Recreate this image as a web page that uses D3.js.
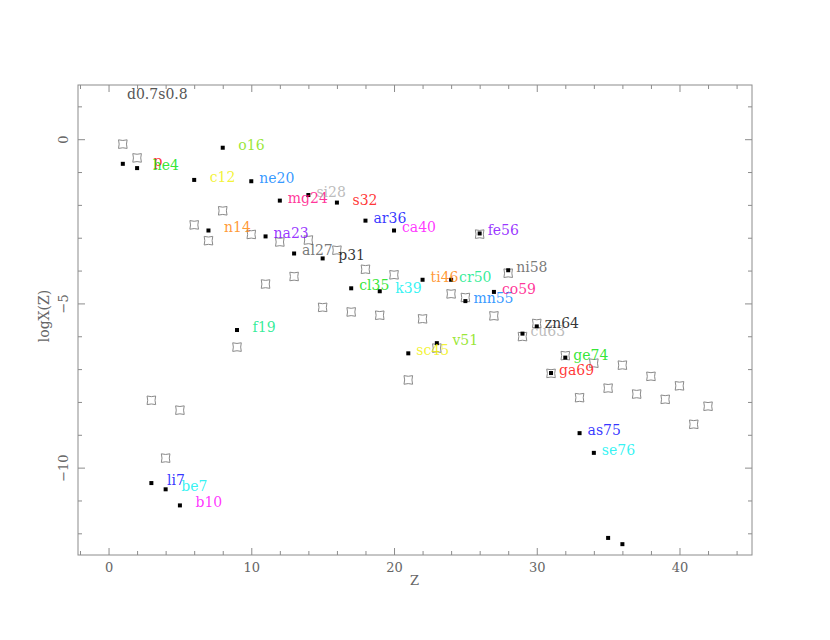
<!DOCTYPE html>
<html>
<head>
<meta charset="utf-8">
<script src="https://cdn.jsdelivr.net/npm/d3@7/dist/d3.min.js"></script>
<style>
  body { margin: 0; background: #fff; }
  svg { display: block; }
  text { font-family: "DejaVu Serif", serif; }
</style>
</head>
<body>
<div id="chart"></div>
<script>
// Abundance pattern logX(Z) — filled = model, open = reference set
var modelZ = [1, 2, 3, 4, 5, 6, 7, 8, 9, 10, 11, 12, 13, 14, 15, 16, 17, 18,
  19, 20, 21, 22, 23, 24, 25, 26, 27, 28, 29, 30, 31, 32, 33, 34, 35, 36];
var modelLogX = [-0.75, -0.88, -10.47, -10.66, -11.15, -1.24, -2.78, -0.26, -5.81,
  -1.28, -2.96, -1.87, -3.48, -1.70, -3.63, -1.93, -4.54, -2.48, -4.63, -2.78,
  -6.52, -4.28, -6.21, -4.28, -4.93, -2.87, -4.65, -3.99, -5.92, -5.70, -7.12,
  -6.65, -8.95, -9.55, -12.14, -12.33];
var isotopeNames = ['p', 'he4', 'li7', 'be7', 'b10', 'c12', 'n14', 'o16', 'f19',
  'ne20', 'na23', 'mg24', 'al27', 'si28', 'p31', 's32', 'cl35', 'ar36', 'k39',
  'ca40', 'sc45', 'ti46', 'v51', 'cr50', 'mn55', 'fe56', 'co59', 'ni58', 'cu63',
  'zn64', 'ga69', 'ge74', 'as75', 'se76'];

var refZ = [1, 2, 3, 4, 5, 6, 7, 8, 9, 10, 11, 12, 13, 14, 15, 16, 17, 18, 19, 20,
  21, 22, 23, 24, 25, 26, 27, 28, 29, 30, 31, 32, 33, 34, 35, 36, 37, 38, 39, 40, 41, 42];
var refLogX = [-0.15, -0.57, -7.95, -9.71, -8.25, -2.61, -3.09, -2.18, -6.33, -2.90,
  -4.41, -3.13, -4.18, -3.07, -5.12, -3.38, -5.26, -3.96, -5.36, -4.13, -7.33,
  -5.47, -6.36, -4.71, -4.82, -2.89, -5.38, -4.08, -6.01, -5.61, -7.13, -6.59,
  -7.87, -6.82, -7.58, -6.88, -7.76, -7.22, -7.92, -7.51, -8.68, -8.13];

// pen colours 0..15 (plot package colour indices)
var penColors = ['#ffffff', '#000000', '#ff0000', '#00e000', '#0000ff', '#00f0f0',
  '#ff00ff', '#f0f000', '#ff8000', '#80e000', '#00e880', '#0080ff', '#8000ff',
  '#ff0080', '#555555', '#aaaaaa'];

var xMajor = [0, 10, 20, 30, 40];
var yMajor = [-10, -5, 0];
var title = 'd0.7s0.8';

var W = 830, H = 640;
var frame = { left: 78, right: 752, top: 85, bottom: 555 };

var x = d3.scaleLinear().domain([-2.14, 45.08]).range([frame.left, frame.right]);
var y = d3.scaleLinear().domain([-12.66, 1.65]).range([frame.bottom, frame.top]);

var svg = d3.select('#chart').append('svg')
  .attr('width', W).attr('height', H)
  .attr('viewBox', '0 0 ' + W + ' ' + H);

var AXIS = '#8c8c8c';

function styleAxis(g) {
  g.select('.domain').remove();
  g.selectAll('line').attr('stroke', AXIS);
  g.selectAll('text').attr('fill', '#666').attr('font-size', 13)
    .attr('font-family', '"DejaVu Serif", serif');
}

// frame
svg.append('rect')
  .attr('x', frame.left).attr('y', frame.top)
  .attr('width', frame.right - frame.left).attr('height', frame.bottom - frame.top)
  .attr('fill', 'none').attr('stroke', AXIS);

// minor ticks (every 2 in Z, every 1 in logX), on all four sides
var xMinor = d3.range(-2, 46, 2).filter(function (v) { return xMajor.indexOf(v) < 0; });
var yMinor = d3.range(-12, 2, 1).filter(function (v) { return yMajor.indexOf(v) < 0; });

svg.append('g').attr('transform', 'translate(0,' + frame.bottom + ')')
  .call(d3.axisBottom(x).tickValues(xMinor).tickSize(-4).tickFormat(''))
  .call(styleAxis);
svg.append('g').attr('transform', 'translate(0,' + frame.top + ')')
  .call(d3.axisTop(x).tickValues(xMinor).tickSize(-4).tickFormat(''))
  .call(styleAxis);
svg.append('g').attr('transform', 'translate(' + frame.left + ',0)')
  .call(d3.axisLeft(y).tickValues(yMinor).tickSize(-4).tickFormat(''))
  .call(styleAxis);
svg.append('g').attr('transform', 'translate(' + frame.right + ',0)')
  .call(d3.axisRight(y).tickValues(yMinor).tickSize(-4).tickFormat(''))
  .call(styleAxis);

// major ticks with labels
svg.append('g').attr('transform', 'translate(0,' + frame.bottom + ')')
  .call(d3.axisBottom(x).tickValues(xMajor).tickSize(-7).tickPadding(8).tickFormat(d3.format('d')))
  .call(styleAxis);
svg.append('g').attr('transform', 'translate(0,' + frame.top + ')')
  .call(d3.axisTop(x).tickValues(xMajor).tickSize(-7).tickFormat(''))
  .call(styleAxis);
var yAx = svg.append('g').attr('transform', 'translate(' + frame.left + ',0)')
  .call(d3.axisLeft(y).tickValues(yMajor).tickSize(-7).tickFormat(d3.format('d')))
  .call(styleAxis);
yAx.selectAll('text')
  .attr('transform', 'rotate(-90)')
  .attr('x', 0).attr('y', -10).attr('dy', 0)
  .attr('text-anchor', 'middle');
svg.append('g').attr('transform', 'translate(' + frame.right + ',0)')
  .call(d3.axisRight(y).tickValues(yMajor).tickSize(-7).tickFormat(''))
  .call(styleAxis);

// axis titles
svg.append('text')
  .attr('x', (frame.left + frame.right) / 2 + -0.5).attr('y', 585)
  .attr('text-anchor', 'middle').attr('font-size', 13).attr('fill', '#666')
  .text('Z');
svg.append('text')
  .attr('transform', 'translate(49,316) rotate(-90)')
  .attr('text-anchor', 'middle').attr('font-size', 14).attr('fill', '#666')
  .text('logX(Z)');

svg.append('text')
  .attr('x', 127).attr('y', 99)
  .attr('font-size', 14).attr('fill', '#555')
  .text(title);

// open (reference) symbols: square with concave sides
var s = 4.3, b = 1.3;
var openSym = 'M' + (-s) + ',' + (-s) +
  'Q0,' + (-s + b) + ' ' + s + ',' + (-s) +
  'Q' + (s - b) + ',0 ' + s + ',' + s +
  'Q0,' + (s - b) + ' ' + (-s) + ',' + s +
  'Q' + (-s + b) + ',0 ' + (-s) + ',' + (-s) + 'Z';

svg.append('g').selectAll('path')
  .data(refZ.map(function (z, i) { return { z: z, v: refLogX[i] }; }))
  .enter().append('path')
  .attr('d', openSym)
  .attr('transform', function (d) { return 'translate(' + x(d.z) + ',' + y(d.v) + ')'; })
  .attr('fill', 'none').attr('stroke', '#8a8a8a').attr('stroke-width', 1);

// filled (model) points
var model = modelZ.map(function (z, i) {
  return { z: z, v: modelLogX[i], name: isotopeNames[i] };
});

svg.append('g').selectAll('rect')
  .data(model).enter().append('rect')
  .attr('x', function (d) { return x(d.z) - 2; })
  .attr('y', function (d) { return y(d.v) - 2; })
  .attr('width', 4).attr('height', 4)
  .attr('fill', '#000');

// labels, right-justified to 4 characters like the original output
svg.append('g').selectAll('text')
  .data(model.filter(function (d) { return d.name; }))
  .enter().append('text')
  .attr('x', function (d) { return x(d.z) + 8 + (4 - d.name.length) * 7.6; })
  .attr('y', function (d) { return y(d.v) + 2; })
  .attr('font-size', 14)
  .attr('fill', function (d) { return penColors[d.z % 15 + 1]; })
  .attr('fill-opacity', 0.8)
  .text(function (d) { return d.name; });
</script>
</body>
</html>
